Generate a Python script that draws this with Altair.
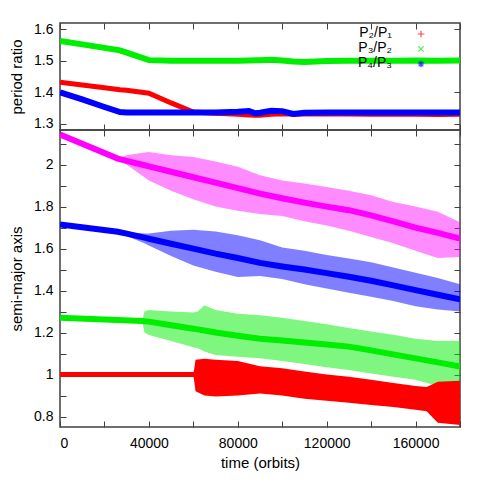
import altair as alt
import pandas as pd

FONT = "Liberation Sans"

# ---------------- top panel: period ratios ----------------
t_top = [0, 10000, 20000, 27000, 30000, 40000, 50000, 60000, 70000, 80000, 85000, 88000,
         90000, 95000, 100000, 105000, 110000, 120000, 130000, 140000, 150000, 160000, 170000, 180000]
p21 = [1.432, 1.423, 1.414, 1.408, 1.406, 1.397, 1.366, 1.337, 1.333, 1.330, 1.328, 1.327,
       1.327, 1.330, 1.332, 1.330, 1.331, 1.332, 1.331, 1.330, 1.331, 1.330, 1.329, 1.330]
p32 = [1.563, 1.552, 1.541, 1.533, 1.526, 1.502, 1.500, 1.500, 1.500, 1.500, 1.501, 1.502,
       1.502, 1.503, 1.501, 1.498, 1.496, 1.499, 1.500, 1.500, 1.500, 1.501, 1.500, 1.501]
p43 = [1.400, 1.377, 1.353, 1.337, 1.336, 1.336, 1.336, 1.336, 1.336, 1.338, 1.340, 1.333,
       1.335, 1.341, 1.340, 1.331, 1.335, 1.336, 1.336, 1.336, 1.336, 1.336, 1.336, 1.336]
legend_labels = ["P\u2082/P\u2081", "P\u2083/P\u2082", "P\u2084/P\u2083"]

# ---------------- bottom panel: semi-major axes (centre, upper, lower envelope) ----------------
t_a4 = [0, 26000, 30000, 38000, 40000, 50000, 60000, 70000, 80000, 90000, 100000, 110000,
        120000, 130000, 140000, 150000, 160000, 170000, 180000]
a4_c = [2.143, 2.029, 2.018, 1.997, 1.992, 1.966, 1.940, 1.914, 1.888, 1.862, 1.840, 1.819,
        1.800, 1.783, 1.758, 1.730, 1.700, 1.675, 1.648]
a4_hi = [2.143, 2.029, 2.045, 2.058, 2.060, 2.045, 2.036, 2.015, 1.990, 1.950, 1.925, 1.910,
         1.894, 1.875, 1.854, 1.822, 1.800, 1.775, 1.725]
a4_lo = [2.143, 2.029, 2.000, 1.940, 1.925, 1.875, 1.835, 1.800, 1.780, 1.765, 1.755, 1.730,
         1.710, 1.685, 1.655, 1.625, 1.590, 1.555, 1.560]

t_a3 = [0, 26000, 30000, 38000, 40000, 50000, 60000, 70000, 80000, 90000, 100000, 110000,
        120000, 130000, 140000, 150000, 160000, 170000, 180000]
a3_c = [1.715, 1.680, 1.671, 1.652, 1.647, 1.623, 1.600, 1.576, 1.555, 1.532, 1.515, 1.500,
        1.483, 1.466, 1.447, 1.425, 1.402, 1.380, 1.358]
a3_hi = [1.715, 1.680, 1.678, 1.672, 1.672, 1.685, 1.690, 1.682, 1.664, 1.640, 1.605, 1.590,
         1.570, 1.553, 1.535, 1.510, 1.485, 1.460, 1.430]
a3_lo = [1.715, 1.680, 1.660, 1.625, 1.615, 1.565, 1.520, 1.490, 1.465, 1.470, 1.455, 1.430,
         1.410, 1.390, 1.370, 1.350, 1.325, 1.310, 1.300]

t_a2 = [0, 37000, 38000, 40000, 50000, 60000, 62000, 65000, 70000, 80000, 90000, 100000,
        110000, 120000, 130000, 140000, 150000, 160000, 170000, 180000]
a2_c = [1.270, 1.255, 1.254, 1.252, 1.235, 1.218, 1.215, 1.210, 1.200, 1.185, 1.170, 1.162,
        1.153, 1.143, 1.133, 1.115, 1.096, 1.077, 1.058, 1.038]
a2_hi = [1.270, 1.255, 1.300, 1.307, 1.300, 1.295, 1.300, 1.330, 1.307, 1.290, 1.283, 1.270,
         1.255, 1.240, 1.222, 1.205, 1.190, 1.170, 1.160, 1.160]
a2_lo = [1.270, 1.255, 1.200, 1.188, 1.160, 1.130, 1.125, 1.110, 1.093, 1.085, 1.077, 1.065,
         1.050, 1.035, 1.022, 1.005, 0.990, 0.975, 0.945, 0.940]

t_a1 = [0, 60000, 61000, 65000, 70000, 80000, 90000, 100000, 110000, 120000, 130000, 140000,
        150000, 160000, 165000, 170000, 180000]
a1_c = [1.000, 1.000, 1.000, 0.990, 0.985, 0.982, 0.975, 0.965, 0.952, 0.940, 0.928, 0.915,
        0.903, 0.890, 0.883, 0.870, 0.865]
a1_hi = [1.000, 1.000, 1.070, 1.075, 1.070, 1.065, 1.040, 1.030, 1.015, 1.000, 0.990, 0.975,
         0.960, 0.945, 0.940, 0.965, 0.970]
a1_lo = [1.000, 1.000, 0.920, 0.900, 0.895, 0.900, 0.910, 0.900, 0.885, 0.875, 0.865, 0.855,
         0.845, 0.832, 0.825, 0.770, 0.760]

# ---------------- axis ticks ----------------
x_ticks = [0, 20000, 40000, 60000, 80000, 100000, 120000, 140000, 160000, 180000]
y_top_ticks = [1.3, 1.4, 1.5, 1.6]
y_bot_ticks = [0.8, 0.9, 1.0, 1.1, 1.2, 1.3, 1.4, 1.5, 1.6, 1.7, 1.8, 1.9, 2.0, 2.1]

RED, GREEN, BLUE, MAGENTA = "#ff0000", "#00ee00", "#0000ff", "#ff00ff"
W = 400
H_TOP = 107
H_BOT = 297
TICK = 6
TICK_COLOR = "#404040"

x_dom = [0, 180000]
y_top_dom = [1.28, 1.62]
y_bot_dom = [0.75, 2.165]

x_label_expr = "datum.value % 40000 == 0 ? format(datum.value, 'd') : ''"
y_bot_label_expr = "abs(round(datum.value * 10)) % 2 == 0 ? format(datum.value, '~g') : ''"


def ax(orient, values, labels=False, title=None, label_expr=None, fmt=None, label_pad=7, title_pad=9):
    kw = dict(orient=orient, values=values, tickSize=TICK, offset=-TICK, domain=False,
              grid=False, labels=labels, tickColor=TICK_COLOR, tickWidth=1,
              labelPadding=label_pad, titlePadding=title_pad, title=title)
    if label_expr is not None:
        kw["labelExpr"] = label_expr
    if fmt is not None:
        kw["format"] = fmt
    return alt.Axis(**kw)


# ---------------- top panel ----------------
top_df = pd.DataFrame({"t": t_top, "p21": p21, "p32": p32, "p43": p43})
xs_top = alt.Scale(domain=x_dom, nice=False, zero=False)
ys_top = alt.Scale(domain=y_top_dom, nice=False, zero=False)

base_top = alt.Chart(top_df)

g_top = base_top.mark_line(color=GREEN, strokeWidth=6, clip=True).encode(
    x=alt.X("t:Q", scale=xs_top, axis=ax("bottom", x_ticks)),
    y=alt.Y("p32:Q", scale=ys_top,
            axis=ax("left", y_top_ticks, labels=True, title="period ratio", fmt=".1f")),
)
r_top = base_top.mark_line(color=RED, strokeWidth=5, clip=True).encode(
    x=alt.X("t:Q", scale=xs_top, axis=ax("top", x_ticks)),
    y=alt.Y("p21:Q", scale=ys_top, axis=ax("right", y_top_ticks)),
)
b_top = base_top.mark_line(color=BLUE, strokeWidth=6, clip=True).encode(
    x=alt.X("t:Q", scale=xs_top, axis=None),
    y=alt.Y("p43:Q", scale=ys_top, axis=None),
)

leg_df = pd.DataFrame({"label": legend_labels})
leg_y = alt.Y("label:N", scale=alt.Scale(domain=legend_labels, range=[11.0, 41.0], padding=0), axis=None)
leg_text = alt.Chart(leg_df).mark_text(align="right", baseline="middle", font=FONT,
                                       fontSize=14, color="black", dy=-1).encode(
    x=alt.value(332), y=leg_y, text="label:N")
plus = "M-1,0L1,0M0,-1L0,1"
cross = "M-0.8,-0.8L0.8,0.8M-0.8,0.8L0.8,-0.8"
star = "M-1,0L1,0M0,-1L0,1M-0.7,-0.7L0.7,0.7M-0.7,0.7L0.7,-0.7"
leg_pts = alt.Chart(leg_df).mark_point(filled=False, strokeWidth=1.2, size=45).encode(
    x=alt.value(361), y=leg_y,
    shape=alt.Shape("label:N", scale=alt.Scale(domain=legend_labels, range=[plus, cross, star]), legend=None),
    color=alt.Color("label:N", scale=alt.Scale(domain=legend_labels, range=[RED, GREEN, BLUE]), legend=None),
)

top = alt.layer(g_top, r_top, b_top, leg_text, leg_pts).resolve_scale(
    y="independent", color="independent", shape="independent"
).resolve_axis(x="independent", y="independent").properties(width=W, height=H_TOP)

# ---------------- bottom panel ----------------
xs_bot = alt.Scale(domain=x_dom, nice=False, zero=False)
ys_bot = alt.Scale(domain=y_bot_dom, nice=False, zero=False)


def band(t, c, hi, lo, color, op, lw, first=False, mirror=False):
    df = pd.DataFrame({"t": t, "c": c, "hi": hi, "lo": lo})
    if first:
        xa = ax("bottom", x_ticks, labels=True, title="time (orbits)", label_expr=x_label_expr,
                label_pad=9, title_pad=5)
        ya = ax("left", y_bot_ticks, labels=True, title="semi-major axis", label_expr=y_bot_label_expr)
    else:
        xa = None
        ya = None
    area = alt.Chart(df).mark_area(color=color, opacity=op, clip=True).encode(
        x=alt.X("t:Q", scale=xs_bot, axis=xa),
        y=alt.Y("lo:Q", scale=ys_bot, axis=ya),
        y2="hi:Q",
    )
    if mirror:
        xm = ax("top", x_ticks)
        ym = ax("right", y_bot_ticks)
    else:
        xm = None
        ym = None
    line = alt.Chart(df).mark_line(color=color, strokeWidth=lw, clip=True).encode(
        x=alt.X("t:Q", scale=xs_bot, axis=xm),
        y=alt.Y("c:Q", scale=ys_bot, axis=ym),
    )
    return [area, line]


layers = []
layers += band(t_a4, a4_c, a4_hi, a4_lo, MAGENTA, 0.45, 6, first=True, mirror=True)
layers += band(t_a3, a3_c, a3_hi, a3_lo, BLUE, 0.5, 6)
layers += band(t_a2, a2_c, a2_hi, a2_lo, GREEN, 0.5, 6)
layers += band(t_a1, a1_c, a1_hi, a1_lo, RED, 1.0, 5)

bottom = alt.layer(*layers).resolve_axis(x="independent", y="independent").properties(
    width=W, height=H_BOT)

chart = alt.vconcat(top, bottom, spacing=0, bounds="flush").properties(
    padding={"left": 0, "top": 13, "right": 10, "bottom": 5}
).configure_view(stroke="#404040", strokeWidth=1.5).configure_axis(
    labelFont=FONT, titleFont=FONT, labelFontSize=14, titleFontSize=15,
    titleFontWeight="normal", labelColor="black", titleColor="black"
).configure_concat(spacing=0)

chart.save("out.html", embed_options={"renderer": "svg", "actions": False})
